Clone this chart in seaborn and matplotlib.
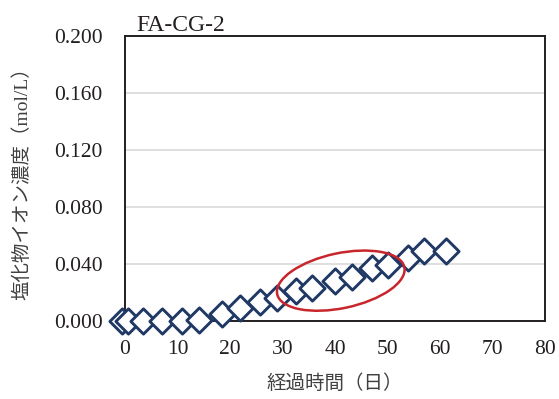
import numpy as np
import pandas as pd
import matplotlib
matplotlib.use("Agg")
import matplotlib.pyplot as plt
import seaborn as sns
from matplotlib.patches import Ellipse
from matplotlib.transforms import ScaledTranslation

# data
days = [-0.5, 0.5, 3.5, 7.0, 10.9, 14.1, 18.5, 21.9, 25.7, 29.0,
        32.6, 35.6, 40.0, 43.2, 47.0, 50.1, 53.9, 56.9, 61.1]
chloride = [0.000, 0.000, 0.000, 0.000, 0.000, 0.001, 0.005, 0.009, 0.013, 0.016,
            0.021, 0.023, 0.028, 0.031, 0.037, 0.039, 0.044, 0.049, 0.049]
x_ticks = [0, 10, 20, 30, 40, 50, 60, 70, 80]
y_ticks = [0.000, 0.040, 0.080, 0.120, 0.160, 0.200]
title = "FA-CG-2"
xlabel = "経過時間（日）"
ylabel = "塩化物イオン濃度（mol/L）"

df = pd.DataFrame({"day": days, "cl": chloride})

sns.set_style("white")
plt.rcParams['font.family'] = ['Liberation Serif', 'Noto Sans CJK JP', 'DejaVu Sans']

fig = plt.figure(figsize=(5.59, 3.99), dpi=100)
ax = fig.add_axes([0.2236, 0.1955, 0.7514, 0.7145])

ax.set_xlim(0, 80)
ax.set_ylim(0, 0.2)
ax.set_yticks(y_ticks)
ax.set_yticklabels([f"{v:.3f}" for v in y_ticks])
ax.set_xticks(x_ticks)
ax.grid(axis="y", color="#d9d9d9", linewidth=1.2)
ax.set_axisbelow(True)

sns.scatterplot(data=df, x="day", y="cl", marker="D", s=165,
                facecolor="white", edgecolor="#203864", linewidth=2.1,
                ax=ax, clip_on=False, zorder=3)

for sp in ax.spines.values():
    sp.set_color("#231f20")
    sp.set_linewidth(1.4)

ax.tick_params(axis="x", direction="in", length=5, width=1, color="#231f20",
               labelsize=15.5, labelcolor="#231f20", pad=14, top=False)
ax.tick_params(axis="y", length=0, labelsize=15.5, labelcolor="#231f20", pad=16)

ax.set_xlabel(xlabel, fontsize=14, color="#404040", family=['Noto Sans CJK JP'], labelpad=10)
ax.set_ylabel(ylabel, fontsize=14, color="#404040", labelpad=16)
ax.text(0.028, 1.0, title, transform=ax.transAxes, fontsize=17,
        color="#231f20", ha="left", va="bottom")

# red ellipse highlighting the middle stretch
tr = fig.dpi_scale_trans + ScaledTranslation(41.1, 0.0283, ax.transData)
ax.add_patch(Ellipse((0, 0), 1.3, 0.55, angle=12, transform=tr,
                     fill=False, edgecolor="#c8262c", linewidth=1.8, zorder=4))

fig.savefig("out.png", dpi=100)
